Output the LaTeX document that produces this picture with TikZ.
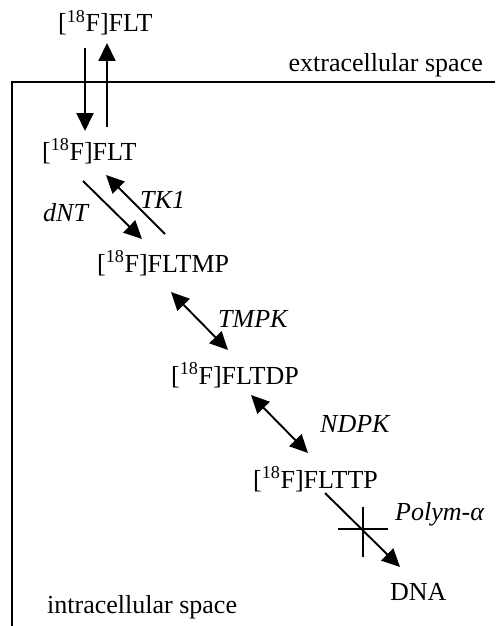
\documentclass[tikz,border=0pt]{standalone}
\usepackage{fontspec}
\setmainfont{Liberation Serif}
\usetikzlibrary{arrows.meta}
\begin{document}
\begin{tikzpicture}[x=1pt,y=-1pt,
  lbl/.style={inner sep=0pt, anchor=base west, font=\fontsize{26}{30}\selectfont},
  enz/.style={inner sep=0pt, anchor=base west, font=\fontsize{26}{30}\selectfont\itshape},
  arr/.style={line width=1.9pt, -{Triangle[length=18pt,width=17pt]}},
  dbl/.style={line width=1.9pt, {Triangle[length=18pt,width=17pt]}-{Triangle[length=18pt,width=17pt]}},
  wall/.style={line width=1.4pt},
  blocker/.style={line width=1.4pt}]
\useasboundingbox (0,0) rectangle (495,626);
% compartments
\coordinate (wr) at (495,82);
\coordinate (wc) at (12,82);
\coordinate (wb) at (12,626);
\draw[wall] (wr) -- (wc) -- (wb);
\node[inner sep=0pt, anchor=base east, font=\fontsize{26}{30}\selectfont] (extra) at (483,71) {extracellular space};
\node[lbl] (intra) at (47,613) {intracellular space};
% metabolites
\node[lbl] (fltout) at (58,32) {[\textsuperscript{18}F]FLT};
\node[lbl] (fltin) at (42,160) {[\textsuperscript{18}F]FLT};
\node[lbl] (fltmp) at (97,272) {[\textsuperscript{18}F]FLTMP};
\node[lbl] (fltdp) at (171,384) {[\textsuperscript{18}F]FLTDP};
\node[lbl] (flttp) at (253,488) {[\textsuperscript{18}F]FLTTP};
\node[lbl] (dna) at (390,600) {DNA};
% enzymes
\node[enz] (dnt) at (43,221) {dNT};
\node[enz] (tk1) at (140,208) {TK1};
\node[enz] (tmpk) at (218,327) {TMPK};
\node[enz] (ndpk) at (320,432) {NDPK};
\node[enz] (polym) at (395,520) {Polym-α};
% arrow end points
\coordinate (inS) at (85,48);   \coordinate (inE) at (85,131);
\coordinate (outS) at (107,127); \coordinate (outE) at (107,43);
\coordinate (dntS) at (83,181); \coordinate (dntE) at (142,239);
\coordinate (tkS) at (165,234); \coordinate (tkE) at (106,175);
\coordinate (tmS) at (171,292); \coordinate (tmE) at (228,350);
\coordinate (ndS) at (251,395); \coordinate (ndE) at (308,453);
\coordinate (poS) at (325,493); \coordinate (poE) at (400,567);
\coordinate (xl) at (338,529); \coordinate (xr) at (388,529);
\coordinate (xt) at (363,507); \coordinate (xb) at (363,557);
% connectors
\draw[arr] (inS) -- (inE);
\draw[arr] (outS) -- (outE);
\draw[arr] (dntS) -- (dntE);
\draw[arr] (tkS) -- (tkE);
\draw[dbl] (tmS) -- (tmE);
\draw[dbl] (ndS) -- (ndE);
\draw[arr] (poS) -- (poE);
\draw[blocker] (xl) -- (xr) (xt) -- (xb);
\end{tikzpicture}
\end{document}
